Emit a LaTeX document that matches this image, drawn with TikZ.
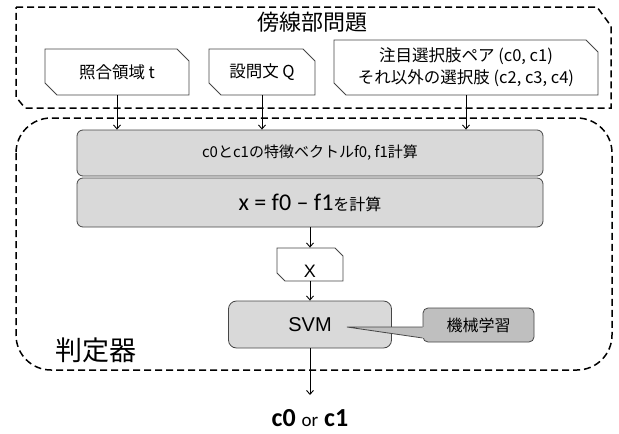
\documentclass[tikz,border=0pt]{standalone}
\usepackage{fontspec}
\setmainfont{Liberation Sans}
\newfontfamily\jp{Noto Sans CJK JP}
\newfontfamily\calfont{Carlito}
\newfontfamily\arialf{Liberation Sans}
\usetikzlibrary{shapes.misc,arrows.meta,calc}
\definecolor{boxgray}{RGB}{217,217,217}
\definecolor{mlgray}{RGB}{191,191,191}
\definecolor{edgegray}{RGB}{70,70,70}
\begin{document}
\begin{tikzpicture}[x=1pt,y=-1pt,
  arr/.style={draw=black, line width=0.9pt, -{Straight Barb[length=4pt,width=7pt]}},
  container/.style={line width=1.5pt, dash pattern=on 7pt off 4pt},
  inbox/.style={chamfered rectangle, chamfered rectangle corners={north east,south west},
    chamfered rectangle xsep=6pt, chamfered rectangle ysep=6pt, draw=edgegray,
    line width=0.8pt, fill=white, inner sep=0pt, font=\jp\fontsize{16.5}{22}\selectfont, align=center},
  graybox/.style={draw=edgegray, fill=boxgray, rounded corners=6pt, line width=0.8pt, inner sep=0pt},
  mlbox/.style={draw=edgegray, fill=mlgray, rounded corners=5pt, line width=0.8pt, inner sep=0pt,
    minimum width=111pt, minimum height=34pt, font=\jp\fontsize{16}{18}\selectfont},
]
\useasboundingbox (0,0) rectangle (619,434);
% containers
\draw[container] (16,7) -- (597,7) -- (611,26) -- (611,108) -- (25,108) -- (16,97) -- cycle;
\draw[container, rounded corners=35pt] (16,118) rectangle (612,370);
\node[font=\jp\fontsize{22}{24}\selectfont] (title) at (312,22) {傍線部問題};
\node[font=\jp\fontsize{27}{30}\selectfont] (judge) at (96,350) {判定器};
% inputs
\node[inbox, minimum width=144pt, minimum height=46pt] (in1) at (117,72) {照合領域 t};
\node[inbox, minimum width=106pt, minimum height=46pt] (in2) at (262,72) {設問文 Q};
\node[inbox, minimum width=264pt, minimum height=55pt] (in3) at (466,67.5) {注目選択肢ペア (c0, c1)\\それ以外の選択肢 (c2, c3, c4)};
% processing
\node[graybox, minimum width=466pt, minimum height=46pt, font=\jp\fontsize{15}{16}\selectfont] (feat) at (310,153) {c0とc1の特徴ベクトルf0, f1計算};
\node[graybox, minimum width=466pt, minimum height=49pt] (diff) at (310,202.5) {{\calfont\fontsize{24}{26}\selectfont x = f0 – f1}{\jp\fontsize{16}{18}\selectfont を計算}};
\node[chamfered rectangle, chamfered rectangle corners={north east,south west},
  chamfered rectangle xsep=4pt, chamfered rectangle ysep=4pt, draw=edgegray, fill=white,
  line width=0.8pt, inner sep=0pt, minimum width=66pt, minimum height=25pt,
  text height=25pt, text depth=0pt, font=\arialf\fontsize{18}{20}\selectfont] (xb) at (310,264.5) {X};
\node[graybox, rounded corners=8pt, minimum width=163pt, minimum height=47pt, font=\arialf\fontsize{20}{22}\selectfont] (svm) at (310,324.5) {SVM};
\node[mlbox] (ml) at (478.5,325) {機械学習};
\coordinate (tip) at (347,327);
\fill[mlgray] (tip) -- ($(ml.west)+(1.2,13)$) -- ($(ml.west)+(1.2,2)$) -- cycle;
\draw[draw=edgegray, line width=0.8pt] ($(ml.west)+(0,2)$) -- (tip) -- ($(ml.west)+(0,13)$);
% output
\coordinate (outend) at (310,395);
\node[font=\calfont\fontsize{26}{28}\selectfont, inner sep=1pt] (res) at (310,418) {\textbf{c0} {\fontsize{19}{20}\selectfont or} \textbf{c1}};
% connectors
\draw[arr] (in1.south) -- (in1.south |- feat.north);
\draw[arr] (in2.south) -- (in2.south |- feat.north);
\draw[arr] (in3.south) -- (in3.south |- feat.north);
\draw[arr] (diff.south) -- (xb.north);
\draw[arr] (xb.south) -- (svm.north);
\draw[arr] (svm.south) -- (outend);
\end{tikzpicture}
\end{document}
